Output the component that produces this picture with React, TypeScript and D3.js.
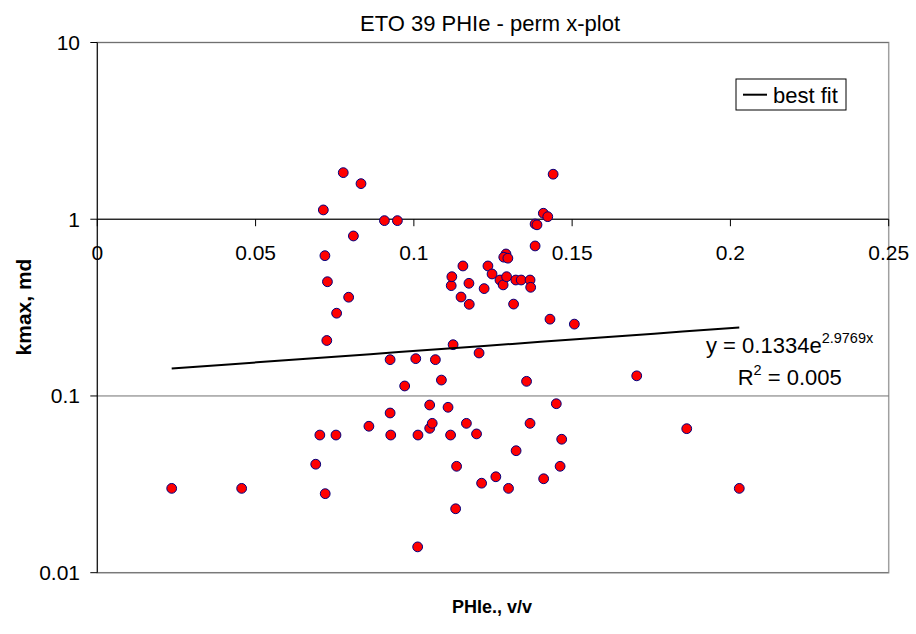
import React from "react";
import * as d3 from "d3";

// Porosity (PHIe, v/v) and maximum permeability (kmax, md) per sample
const phie = [
  0.0235, 0.0456, 0.069, 0.0703, 0.0714, 0.0719, 0.072, 0.0725, 0.0727, 0.0754,
  0.0756, 0.0777, 0.0794, 0.0809, 0.0833, 0.0858, 0.0907, 0.0925, 0.0925, 0.0927,
  0.0948, 0.0971, 0.1006, 0.1012, 0.1013, 0.105, 0.105, 0.1058, 0.1068, 0.1087,
  0.1108, 0.1116, 0.1118, 0.112, 0.1124, 0.1132, 0.1135, 0.1149, 0.1155, 0.1166,
  0.1174, 0.1175, 0.1198, 0.1206, 0.1214, 0.1222, 0.1234, 0.1247, 0.1259, 0.1272,
  0.1282, 0.1291, 0.1284, 0.1297, 0.1293, 0.1299, 0.1315, 0.1322, 0.1323, 0.1339,
  0.1356, 0.1367, 0.1367, 0.1369, 0.1383, 0.1383, 0.1389, 0.1409, 0.141, 0.1423,
  0.143, 0.144, 0.145, 0.1462, 0.1467, 0.1507, 0.1704, 0.1862, 0.2028,
];
const kmax = [
  0.03, 0.03, 0.0411, 0.0601, 1.129, 0.622, 0.028, 0.206, 0.443, 0.0601,
  0.294, 1.835, 0.362, 0.804, 1.59, 0.0674, 0.982, 0.1605, 0.0801, 0.0601,
  0.982, 0.1139, 0.1626, 0.014, 0.0601, 0.0889, 0.0656, 0.07, 0.1605, 0.123,
  0.0863, 0.0601, 0.421, 0.473, 0.195, 0.023, 0.04, 0.363, 0.544, 0.07,
  0.434, 0.33, 0.061, 0.175, 0.0321, 0.405, 0.544, 0.49, 0.0349, 0.453,
  0.425, 0.636, 0.61, 0.602, 0.473, 0.03, 0.331, 0.453, 0.049, 0.453,
  0.121, 0.453, 0.07, 0.412, 0.706, 0.94, 0.93, 1.081, 0.034, 1.034,
  0.272, 1.798, 0.0904, 0.04, 0.0569, 0.255, 0.13, 0.0653, 0.03,
];

// Exponential best fit: k = a * exp(b * phi)
const fitA = 0.1334;
const fitB = 2.9769;
const fitR2 = 0.005;

const xTicks = [0, 0.05, 0.1, 0.15, 0.2, 0.25];
const yTicks = [0.01, 0.1, 1, 10];

const W = 916;
const H = 634;
const FONT = "'Liberation Sans', Arial, sans-serif";

export default function App() {
  const x = d3.scaleLinear().domain([0, 0.25]).range([97.3, 888.7]);
  const y = d3.scaleLog().domain([0.01, 10]).range([572.7, 42.5]);

  const xMin = d3.min(phie) as number;
  const xMax = d3.max(phie) as number;
  const fitPts = d3.range(0, 21).map((i) => {
    const p = xMin + ((xMax - xMin) * i) / 20;
    return [p, fitA * Math.exp(fitB * p)] as [number, number];
  });
  const fitPath = d3
    .line<[number, number]>()
    .x((d) => x(d[0]))
    .y((d) => y(d[1]))(fitPts);

  const y1 = y(1);

  return (
    <svg
      width={W}
      height={H}
      style={{ position: "absolute", left: 0, top: 0, background: "#fff" }}
      fontFamily={FONT}
    >
      <rect x={0} y={0} width={W} height={H} fill="#fff" />

      {/* plot frame */}
      <rect
        x={x(0)}
        y={y(10)}
        width={x(0.25) - x(0)}
        height={y(0.01) - y(10)}
        fill="#fff"
        stroke="#a0a0a0"
        strokeWidth={1.5}
      />

      {/* horizontal gridlines at each decade */}
      {yTicks.map((t) => (
        <line
          key={"g" + t}
          x1={x(0)}
          x2={x(0.25)}
          y1={y(t)}
          y2={y(t)}
          stroke="#707070"
          strokeWidth={1}
        />
      ))}

      {/* y axis */}
      <line x1={x(0)} x2={x(0)} y1={y(10)} y2={y(0.01)} stroke="#000" strokeWidth={1} />
      {yTicks.map((t) => (
        <g key={"yt" + t}>
          <line x1={x(0) - 7} x2={x(0)} y1={y(t)} y2={y(t)} stroke="#000" strokeWidth={1} />
          <text
            x={80}
            y={y(t)}
            textAnchor="end"
            dominantBaseline="central"
            fontSize={21}
            fill="#000"
          >
            {String(t)}
          </text>
        </g>
      ))}

      {/* x axis crossing at k = 1 */}
      <line x1={x(0)} x2={x(0.25)} y1={y1} y2={y1} stroke="#000" strokeWidth={1} />
      {xTicks.map((t) => (
        <g key={"xt" + t}>
          <line x1={x(t)} x2={x(t)} y1={y1} y2={y1 + 7} stroke="#000" strokeWidth={1} />
          <text x={x(t)} y={259.5} textAnchor="middle" fontSize={21} fill="#000">
            {String(t)}
          </text>
        </g>
      ))}

      {/* data points */}
      {phie.map((p, i) => (
        <circle
          key={"pt" + i}
          cx={x(p)}
          cy={y(kmax[i])}
          r={4.9}
          fill="#ff0000"
          stroke="#000080"
          strokeWidth={1}
        />
      ))}

      {/* best fit line */}
      <path d={fitPath || ""} fill="none" stroke="#000" strokeWidth={2} />

      {/* fit equation */}
      <text x={706} y={353} fontSize={22} fill="#000">
        y = {fitA}e
        <tspan fontSize={14.5} dy={-10}>
          {fitB}x
        </tspan>
      </text>
      <text x={737.7} y={385} fontSize={22} fill="#000">
        R
        <tspan fontSize={14.5} dy={-10}>
          2
        </tspan>
        <tspan dy={10}> = {fitR2}</tspan>
      </text>

      {/* legend */}
      <rect x={736} y={79} width={110} height={31} fill="#fff" stroke="#000" strokeWidth={1} />
      <line x1={743} x2={767} y1={94.7} y2={94.7} stroke="#000" strokeWidth={2} />
      <text x={773} y={103} fontSize={22} fill="#000">
        best fit
      </text>

      {/* titles */}
      <text x={490} y={31} textAnchor="middle" fontSize={22} fill="#000">
        ETO 39 PHIe - perm x-plot
      </text>
      <text
        transform={`translate(31,307) rotate(-90)`}
        textAnchor="middle"
        fontSize={21}
        fontWeight="bold"
        fill="#000"
      >
        kmax, md
      </text>
      <text x={492} y={613} textAnchor="middle" fontSize={18} fontWeight="bold" fill="#000">
        PHIe., v/v
      </text>
    </svg>
  );
}
